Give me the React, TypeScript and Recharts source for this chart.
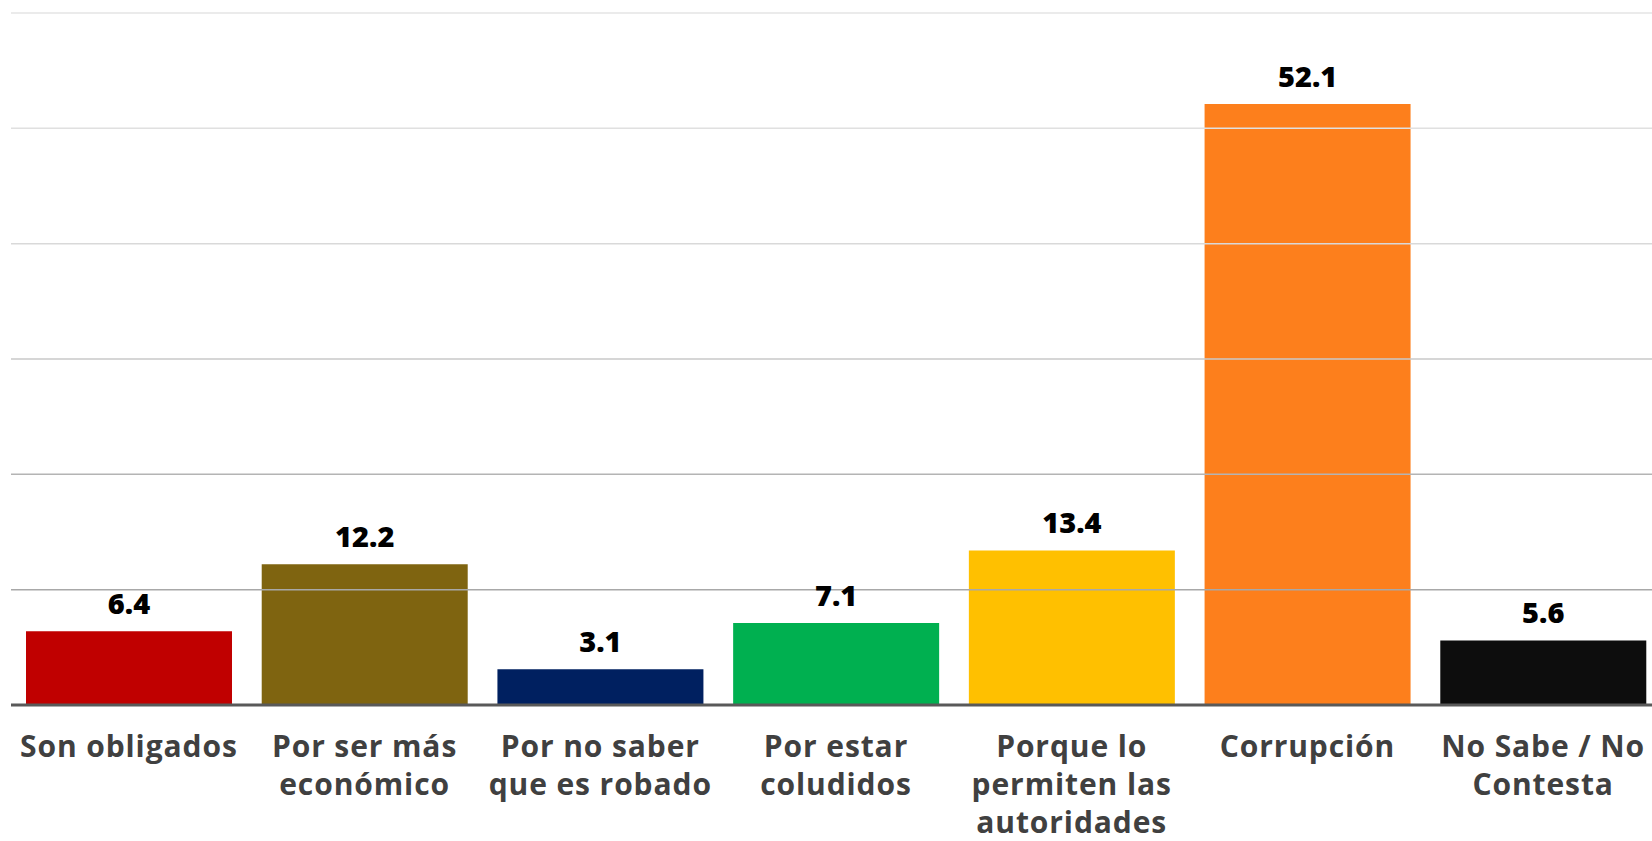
import { BarChart, Bar, XAxis, YAxis, Cell, LabelList, ReferenceLine } from "recharts";

const CATEGORIES = [
  "Son obligados",
  "Por ser más\neconómico",
  "Por no saber\nque es robado",
  "Por estar\ncoludidos",
  "Porque lo\npermiten las\nautoridades",
  "Corrupción",
  "No Sabe / No\nContesta",
];
const VALUES = [6.4, 12.2, 3.1, 7.1, 13.4, 52.1, 5.6];
const BAR_COLORS = ["#C00000", "#7F6410", "#002060", "#00B050", "#FFC000", "#FD7F1C", "#0D0D0D"];
const GRID_VALUES = [10, 20, 30, 40, 50, 60];
const GRID_STROKES = ["#a8a8a8", "#b4b4b4", "#c8c8c8", "#d9d9d9", "#e0e0e0", "#e5e5e5"];

const FONT = "'Open Sans', sans-serif";

const data = CATEGORIES.map((name, i) => ({ name, value: VALUES[i] }));

function CategoryTick(props: any) {
  const { x, y, payload } = props;
  const lines = String(payload.value).split("\n");
  return (
    <text
      x={x}
      y={y}
      textAnchor="middle"
      fill="#404040"
      fontFamily={FONT}
      fontWeight={700}
      fontSize={30}
      letterSpacing={0.9}
    >
      {lines.map((line, i) => (
        <tspan key={i} x={x} y={y + 44 + i * 38}>
          {line}
        </tspan>
      ))}
    </text>
  );
}

export default function App() {
  return (
    <div
      style={{
        position: "absolute",
        left: 0,
        top: 0,
        width: 1652,
        height: 841,
        overflow: "hidden",
        background: "#fff",
      }}
    >
      <BarChart
        width={1661}
        height={841}
        data={data}
        margin={{ top: 13, right: 0, bottom: 0, left: 11 }}
        barCategoryGap={15}
      >
        <YAxis hide domain={[0, 60]} ticks={[0, 10, 20, 30, 40, 50, 60]} />
        {GRID_VALUES.map((v, i) => (
          <ReferenceLine key={v} y={v} stroke={GRID_STROKES[i]} strokeWidth={1.5} />
        ))}
        <XAxis
          dataKey="name"
          height={136}
          interval={0}
          tickLine={false}
          axisLine={false}
          tick={<CategoryTick />}
        />
        <Bar dataKey="value" isAnimationActive={false}>
          {data.map((d, i) => (
            <Cell key={d.name} fill={BAR_COLORS[i]} />
          ))}
          <LabelList
            dataKey="value"
            position="top"
            offset={17}
            fill="#000"
            fontFamily={FONT}
            fontWeight={800}
            fontSize={29}
            formatter={(v: any) => Number(v).toFixed(1)}
          />
        </Bar>
        <ReferenceLine y={0} stroke="#595959" strokeWidth={3} />
      </BarChart>
    </div>
  );
}
